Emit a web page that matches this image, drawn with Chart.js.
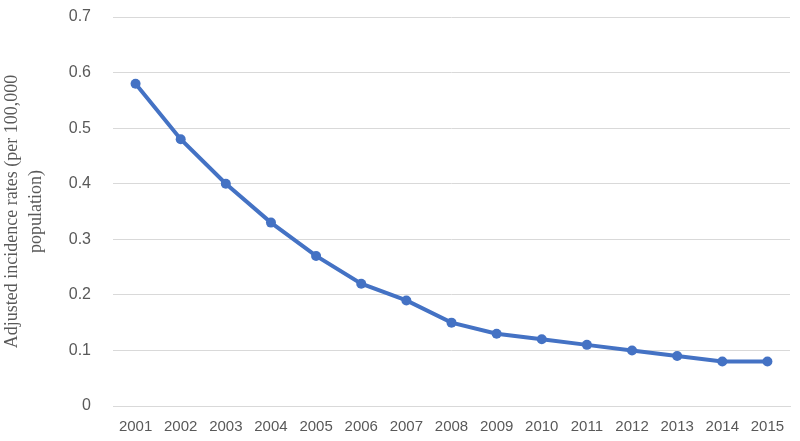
<!DOCTYPE html>
<html>
<head>
<meta charset="utf-8">
<script src="https://cdn.jsdelivr.net/npm/chart.js@4"></script>
<style>
html,body{margin:0;padding:0;background:#fff;}
#wrap{width:800px;height:441px;}
</style>
</head>
<body>
<div id="wrap"><canvas id="c" width="800" height="441"></canvas></div>
<script>
const years = ['2001','2002','2003','2004','2005','2006','2007','2008','2009','2010','2011','2012','2013','2014','2015'];
const rates = [0.58,0.48,0.40,0.33,0.27,0.22,0.19,0.15,0.13,0.12,0.11,0.10,0.09,0.08,0.08];
const yTitle = ['Adjusted incidence rates (per 100,000','population)'];

new Chart(document.getElementById('c'), {
  type: 'line',
  data: {
    labels: years,
    datasets: [{
      data: rates,
      borderColor: '#4472C4',
      backgroundColor: '#4472C4',
      borderWidth: 4,
      pointRadius: 5,
      pointBorderWidth: 0,
      pointBackgroundColor: '#4472C4',
      tension: 0
    }]
  },
  options: {
    responsive: false,
    animation: false,
    layout: { padding: { top: 17, right: 10, left: 0, bottom: 0 }, autoPadding: false },
    plugins: { legend: { display: false }, tooltip: { enabled: false } },
    scales: {
      x: {
        offset: true,
        grid: { display: false, drawTicks: false },
        border: { display: true, color: '#d9d9d9', width: 1 },
        ticks: { color: '#595959', font: { family: 'Liberation Sans', size: 15 }, padding: 12, maxRotation: 0 },
        afterFit: s => { s.height = 35; s.paddingLeft = 0; s.paddingRight = 0; }
      },
      y: {
        min: 0, max: 0.7,
        ticks: { stepSize: 0.1, color: '#595959', font: { family: 'Liberation Sans', size: 16 }, padding: 22 },
        grid: { color: '#d9d9d9', drawTicks: false },
        border: { display: false },
        title: { display: true, text: yTitle, color: '#595959', font: { family: 'Liberation Serif', size: 18, lineHeight: 1.35 }, padding: { top: 0, bottom: 0 } },
        afterFit: s => { s.width = 113; s.paddingTop = 0; s.paddingBottom = 0; }
      }
    }
  }
});
</script>
</body>
</html>
